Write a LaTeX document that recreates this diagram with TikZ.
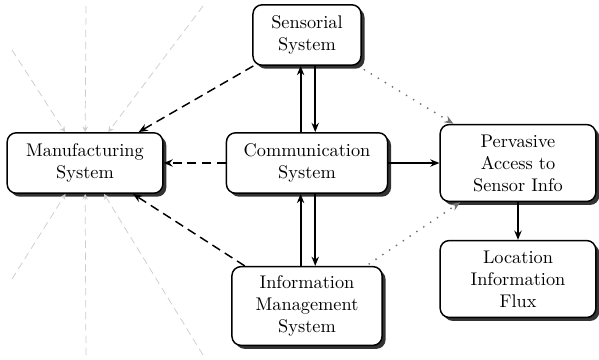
\documentclass[tikz,border=0pt]{standalone}
\usepackage{amsmath,amssymb}
\usetikzlibrary{arrows.meta,shadows}

\tikzset{
  sysbox/.style={rectangle, draw=black, thick, fill=white, rounded corners=5pt,
    align=center, inner xsep=6pt, inner ysep=4pt,
    drop shadow={shadow xshift=1.9pt, shadow yshift=-1.9pt, fill=black!80, opacity=1}},
  feed/.style={->, thick, dash pattern=on 5pt off 3pt, >={Stealth[length=5pt,width=4pt]}},
  hint/.style={->, line width=1.1pt, line cap=round, dash pattern=on 0pt off 4.5pt, black!55, >={Stealth[length=5pt,width=4pt]}},
  flow/.style={->, line width=1pt, >={Stealth[length=5pt,width=4pt]}},
  ambient/.style={->, thin, dash pattern=on 4pt off 2.5pt, black!20, >={Stealth[length=3pt,width=3pt]}}
}

\begin{document}
\begin{tikzpicture}[x=0.546pt, y=-0.546pt]
        \useasboundingbox (0,0) rectangle (599,360);

        \node[sysbox, minimum width=59pt, minimum height=33pt] (sens) at (307,35) {Sensorial\\System};
        \node[sysbox, minimum width=85pt, minimum height=33pt] (manu) at (85,163) {Manufacturing\\System};
        \node[sysbox, minimum width=88pt, minimum height=33pt] (comm) at (307,163) {Communication\\System};
        \node[sysbox, minimum width=85pt, minimum height=42pt] (perv) at (518,163) {Pervasive\\Access to\\Sensor Info};
        \node[sysbox, minimum width=85pt, minimum height=42pt] (loc) at (518,279) {Location\\Information\\Flux};
        \node[sysbox, minimum width=82pt, minimum height=43pt] (info) at (307,306) {Information\\Management\\System};

        % surroundings of the manufacturing system
        \coordinate (g1) at (12,50);
        \coordinate (g2) at (86,6);
        \coordinate (g3) at (203,6);
        \coordinate (g4) at (12,279);
        \coordinate (g5) at (86,355);
        \coordinate (g6) at (203,355);
        \foreach \g in {g1,g2,g3,g4,g5,g6}
            \draw[ambient] (\g) -- (manu);

        \path[feed]
        (sens) edge (manu)
        (comm) edge (manu)
        (info) edge (manu);

        \path[flow]
        ([xshift=-3.5pt]comm.north) edge ([xshift=-3.5pt]sens.south)
        ([xshift=4.5pt]sens.south) edge ([xshift=4.5pt]comm.north)
        ([xshift=-3.5pt]info.north) edge ([xshift=-3.5pt]comm.south)
        ([xshift=4.5pt]comm.south) edge ([xshift=4.5pt]info.north)
        (comm) edge (perv)
        (perv) edge (loc);

        \path[hint]
        (sens) edge[shorten <=4pt] (perv)
        (info) edge[shorten <=2pt] (perv);
    \end{tikzpicture}
\end{document}
